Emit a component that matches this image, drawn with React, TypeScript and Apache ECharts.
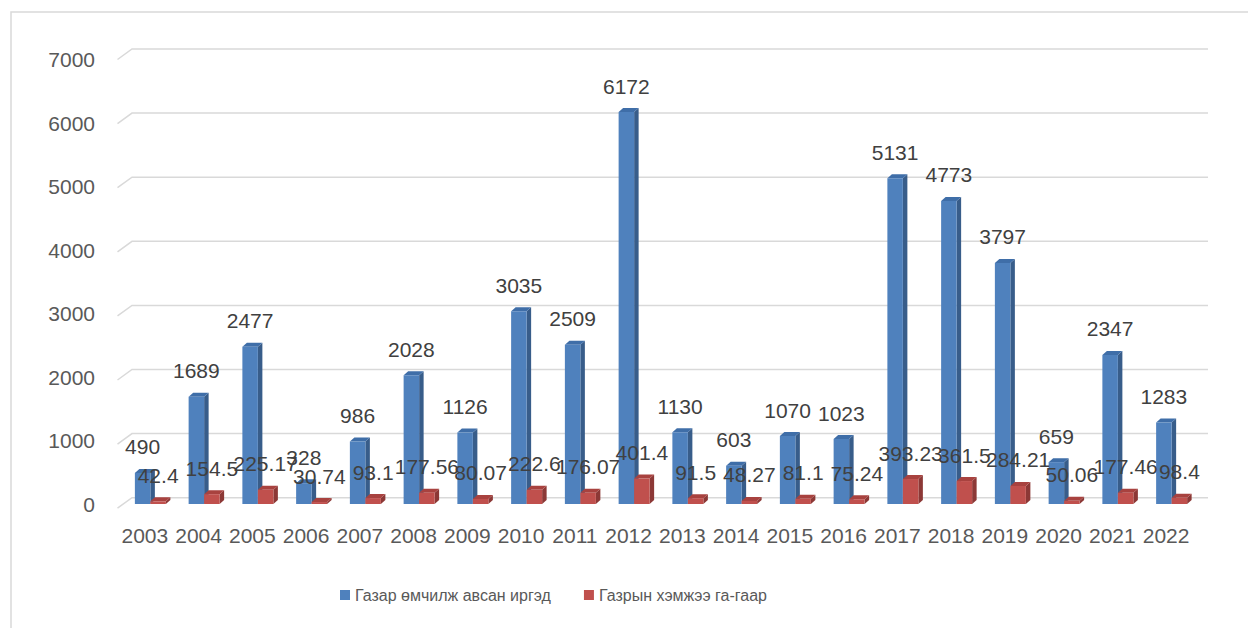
import React, { useEffect, useRef } from "react";
import * as echarts from "echarts";

const years = ["2003","2004","2005","2006","2007","2008","2009","2010","2011","2012","2013","2014","2015","2016","2017","2018","2019","2020","2021","2022"];
const citizens = [490,1689,2477,328,986,2028,1126,3035,2509,6172,1130,603,1070,1023,5131,4773,3797,659,2347,1283];
const landHa = [42.4,154.5,225.17,30.74,93.1,177.56,80.07,222.6,176.07,401.4,91.5,48.27,81.1,75.24,393.23,361.5,284.21,50.06,177.46,98.4];
const yTicks = [0,1000,2000,3000,4000,5000,6000,7000];
const seriesNames = ["Газар өмчилж авсан иргэд", "Газрын хэмжээ га-гаар"];

const FONT = '"Liberation Sans", Arial, sans-serif';

function makeRender(offL: number, offR: number, front: string, top: string, side: string) {
  return (params: any, api: any) => {
    const idx = api.value(0);
    const v = api.value(1);
    const pTop = api.coord([idx, v]);
    const pBase = api.coord([idx, 0]);
    const c = pTop[0];
    const x0 = c + offL;
    const x1 = c + offR;
    const yT = pTop[1];
    const yB = pBase[1];
    const dx = 4.5;
    const dy = -4;
    return {
      type: "group",
      children: [
        { type: "polygon", shape: { points: [[x1, yT], [x1 + dx, yT + dy], [x1 + dx, yB + dy], [x1, yB]] }, style: { fill: side } },
        { type: "polygon", shape: { points: [[x0, yT], [x0 + dx, yT + dy], [x1 + dx, yT + dy], [x1, yT]] }, style: { fill: top } },
        { type: "rect", shape: { x: x0, y: yT, width: x1 - x0, height: yB - yT }, style: { fill: front } },
        {
          type: "text",
          x: (x0 + x1) / 2,
          y: yT - 26,
          z2: 100,
          style: { text: String(v), fill: "#404040", font: `21px ${FONT}`, align: "center", verticalAlign: "middle" },
        },
      ],
    };
  };
}

export default function App() {
  const ref = useRef<HTMLDivElement>(null);
  useEffect(() => {
    document.body.style.margin = "0";
    const chart = echarts.init(ref.current!, null, { renderer: "svg" });
    chart.setOption({
      animation: false,
      backgroundColor: "#ffffff",
      graphic: [
        { type: "rect", shape: { x: 11, y: 12, width: 1300, height: 700 }, style: { fill: "none", stroke: "#D9D9D9", lineWidth: 1.5 }, silent: true },
      ],
      legend: {
        left: 335,
        top: 582,
        itemWidth: 10,
        itemHeight: 10,
        itemGap: 33,
        icon: "rect",
        textStyle: { fontFamily: FONT, fontSize: 16, color: "#595959" },
        data: seriesNames,
      },
      grid: [
        { left: 132, right: 40, top: 49, bottom: 130.3 },
        { left: 118, right: 55, top: 59.5, bottom: 124 },
      ],
      xAxis: [
        { gridIndex: 0, type: "value", min: 0, max: 1, show: false },
        {
          gridIndex: 1,
          type: "category",
          data: years,
          axisLine: { show: false },
          axisTick: { show: false },
          axisLabel: { interval: 0, fontFamily: FONT, fontSize: 21, color: "#595959", margin: 21 },
        },
      ],
      yAxis: [
        {
          gridIndex: 0,
          type: "value",
          min: 0,
          max: 7000,
          interval: 1000,
          show: false,
          splitLine: { show: false },
        },
        {
          gridIndex: 1,
          type: "value",
          min: 0,
          max: 7000,
          interval: 1000,
          axisLine: { show: false },
          axisTick: { show: false },
          splitLine: { show: false },
          axisLabel: {
            fontFamily: FONT,
            fontSize: 21,
            color: "#595959",
            margin: 23,
            formatter: (v: number) => String(v),
          },
        },
      ],
      series: [
        {
          type: "custom",
          name: "gridlines",
          xAxisIndex: 0,
          yAxisIndex: 0,
          silent: true,
          z: 1,
          data: yTicks.map((t) => [0, t]),
          encode: { x: 0, y: 1 },
          renderItem: (params: any, api: any) => {
            const p = api.coord([0, api.value(1)]);
            const cs = params.coordSys;
            return {
              type: "polyline",
              shape: { points: [[p[0] - 14.5, p[1] + 10.5], [p[0], p[1]], [cs.x + cs.width, p[1]]] },
              style: { stroke: "#D9D9D9", lineWidth: 1.5, fill: "none" },
            };
          },
        },
        {
          type: "custom",
          name: seriesNames[0],
          xAxisIndex: 1,
          yAxisIndex: 1,
          itemStyle: { color: "#4F81BD" },
          data: citizens.map((v, i) => [i, v]),
          encode: { x: 0, y: 1 },
          renderItem: makeRender(-10, 5.5, "#4F81BD", "#3F6EA8", "#385D8A"),
        },
        {
          type: "custom",
          name: seriesNames[1],
          xAxisIndex: 1,
          yAxisIndex: 1,
          itemStyle: { color: "#C0504D" },
          data: landHa.map((v, i) => [i, v]),
          encode: { x: 0, y: 1 },
          renderItem: makeRender(5.5, 21, "#C0504D", "#A8423F", "#8C3836"),
        },
      ],
    });
    return () => chart.dispose();
  }, []);
  return <div ref={ref} style={{ width: 1248, height: 628 }} />;
}
